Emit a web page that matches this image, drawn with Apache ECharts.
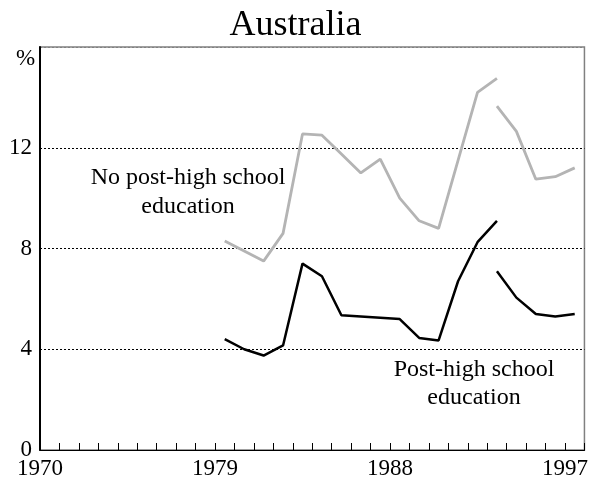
<!DOCTYPE html>
<html>
<head>
<meta charset="utf-8">
<script src="https://cdn.jsdelivr.net/npm/echarts@6/dist/echarts.min.js"></script>
<style>
  html, body { margin: 0; padding: 0; background: #fff; }
  #chart { width: 591px; height: 489px; }
</style>
</head>
<body>
<div id="chart"></div>
<script>
// years on the axis (one category per year)
var axisYears = [];
for (var y = 1970; y <= 1997; y++) axisYears.push(String(y));

// first segment 1979-1993, second segment 1993-1997 (series break)
var years1 = ['1979', '1980', '1981', '1982', '1983', '1984', '1985', '1986',
  '1987', '1988', '1989', '1990', '1991', '1992', '1993'];
var years2 = ['1993', '1994', '1995', '1996', '1997'];

// no post-high school education (%)
var noPostHigh1 = [8.3, 7.9, 7.5, 8.6, 12.55, 12.5, 11.75, 11.0, 11.55, 10.0, 9.1, 8.8, 11.5, 14.2, 14.75];
var noPostHigh2 = [13.65, 12.65, 10.75, 10.85, 11.2];

// post-high school education (%)
var postHigh1 = [4.4, 4.0, 3.75, 4.15, 7.4, 6.9, 5.35, 5.3, 5.25, 5.2, 4.45, 4.35, 6.7, 8.25, 9.1];
var postHigh2 = [7.1, 6.05, 5.4, 5.3, 5.4];

var xLabels = [1970, 1979, 1988, 1997];

var serif = 'Liberation Serif';

function pairs(cats, vals) {
  return cats.map(function (c, i) { return [c, vals[i]]; });
}

function lineSeries(name, cats, vals, color, width) {
  return {
    name: name,
    type: 'line',
    xAxisIndex: 0,
    data: pairs(cats, vals),
    symbol: 'none',
    lineStyle: { color: color, width: width },
    animation: false
  };
}

var chart = echarts.init(document.getElementById('chart'));

var option = {
  backgroundColor: '#fff',
  title: {
    text: 'Australia',
    left: 'center',
    top: 3,
    textStyle: { fontFamily: serif, fontSize: 36, fontWeight: 'normal', color: '#000' }
  },
  grid: {
    left: 40, right: 6, top: 47, bottom: 39,
    show: true,
    borderColor: '#808080',
    borderWidth: 1.5,
    backgroundColor: 'transparent'
  },
  xAxis: [
    {
      type: 'category',
      data: axisYears,
      boundaryGap: true,
      show: false
    },
    {
      type: 'value',
      min: 1970,
      max: 1998,
      interval: 1,
      position: 'bottom',
      axisLine: { show: true, onZero: false, lineStyle: { color: '#000', width: 1 } },
      axisTick: { show: true, inside: true, length: 7, lineStyle: { color: '#000', width: 1 } },
      splitLine: { show: false },
      axisLabel: {
        margin: 7,
        fontFamily: serif,
        fontSize: 23,
        color: '#000',
        showMaxLabel: true,
        formatter: function (v) {
          return xLabels.indexOf(v) >= 0 ? String(v) : '';
        }
      }
    }
  ],
  yAxis: {
    type: 'value',
    min: 0,
    max: 16,
    interval: 4,
    axisLine: { show: true, lineStyle: { color: '#000', width: 2 } },
    axisTick: { show: false },
    splitLine: {
      show: true,
      // top line sits on the grey frame
      lineStyle: { color: ['#000', '#000', '#000', '#000', '#808080'], width: 1, type: [2, 2] }
    },
    axisLabel: {
      margin: 8,
      fontFamily: serif,
      fontSize: 23,
      color: '#000',
      formatter: function (v) { return v === 16 ? '' : String(v); }
    }
  },
  graphic: [
    {
      type: 'text',
      left: 16,
      top: 47,
      style: { text: '%', font: '23px "Liberation Serif"', fill: '#000' }
    },
    {
      type: 'text',
      x: 188,
      y: 163,
      style: {
        text: 'No post-high school\neducation',
        font: '24px "Liberation Serif"',
        fill: '#000',
        align: 'center',
        lineHeight: 29
      }
    },
    {
      type: 'text',
      x: 474,
      y: 356,
      style: {
        text: 'Post-high school\neducation',
        font: '24px "Liberation Serif"',
        fill: '#000',
        align: 'center',
        lineHeight: 28
      }
    }
  ],
  series: [
    lineSeries('No post-high school education', years1, noPostHigh1, '#b4b4b4', 2.8),
    lineSeries('No post-high school education', years2, noPostHigh2, '#b4b4b4', 2.8),
    lineSeries('Post-high school education', years1, postHigh1, '#000', 2.5),
    lineSeries('Post-high school education', years2, postHigh2, '#000', 2.5)
  ]
};

chart.setOption(option);
</script>
</body>
</html>
